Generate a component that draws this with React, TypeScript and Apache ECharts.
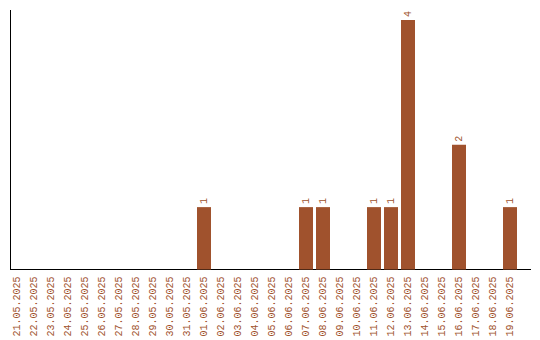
import React, { useEffect, useRef } from "react";
import * as echarts from "echarts";

const categories = [
  "21.05.2025", "22.05.2025", "23.05.2025", "24.05.2025", "25.05.2025",
  "26.05.2025", "27.05.2025", "28.05.2025", "29.05.2025", "30.05.2025",
  "31.05.2025", "01.06.2025", "02.06.2025", "03.06.2025", "04.06.2025",
  "05.06.2025", "06.06.2025", "07.06.2025", "08.06.2025", "09.06.2025",
  "10.06.2025", "11.06.2025", "12.06.2025", "13.06.2025", "14.06.2025",
  "15.06.2025", "16.06.2025", "17.06.2025", "18.06.2025", "19.06.2025",
];
const values = [
  0, 0, 0, 0, 0, 0, 0, 0, 0, 0,
  0, 1, 0, 0, 0, 0, 0, 1, 1, 0,
  0, 1, 1, 4, 0, 0, 2, 0, 0, 1,
];

const COLOR = "#a0522d";
const FONT = "Liberation Mono";

export default function App() {
  const ref = useRef<HTMLDivElement>(null);
  useEffect(() => {
    if (!ref.current) return;
    const chart = echarts.init(ref.current, null, { renderer: "svg" });
    chart.setOption({
      animation: false,
      grid: { left: 8.5, right: 21.5, top: 10, bottom: 70.5, containLabel: false },
      xAxis: {
        type: "category",
        data: categories,
        axisLine: { show: false },
        axisTick: { show: false },
        axisLabel: {
          rotate: 90,
          interval: 0,
          margin: 7,
          color: COLOR,
          fontFamily: FONT,
          fontSize: 10,
        },
      },
      yAxis: {
        type: "value",
        min: 0,
        max: 4.16,
        axisLine: { show: false },
        axisTick: { show: false },
        axisLabel: { show: false },
        splitLine: { show: false },
      },
      series: [
        {
          type: "bar",
          data: values.map((v) => (v === 0 ? null : v)),
          barWidth: 14,
          itemStyle: { color: COLOR },
          label: {
            show: true,
            position: "top",
            rotate: 90,
            align: "left",
            verticalAlign: "middle",
            distance: 3,
            color: COLOR,
            fontFamily: FONT,
            fontSize: 10,
          },
        },
      ],
      graphic: [
        {
          type: "line",
          shape: { x1: 10.5, y1: 10, x2: 10.5, y2: 270 },
          style: { stroke: "#000", lineWidth: 1 },
        },
        {
          type: "line",
          shape: { x1: 10, y1: 269.5, x2: 531, y2: 269.5 },
          style: { stroke: "#000", lineWidth: 1 },
        },
      ],
    });
    return () => chart.dispose();
  }, []);
  return <div ref={ref} style={{ width: 540, height: 340, position: "absolute", left: 0, top: 0 }} />;
}
